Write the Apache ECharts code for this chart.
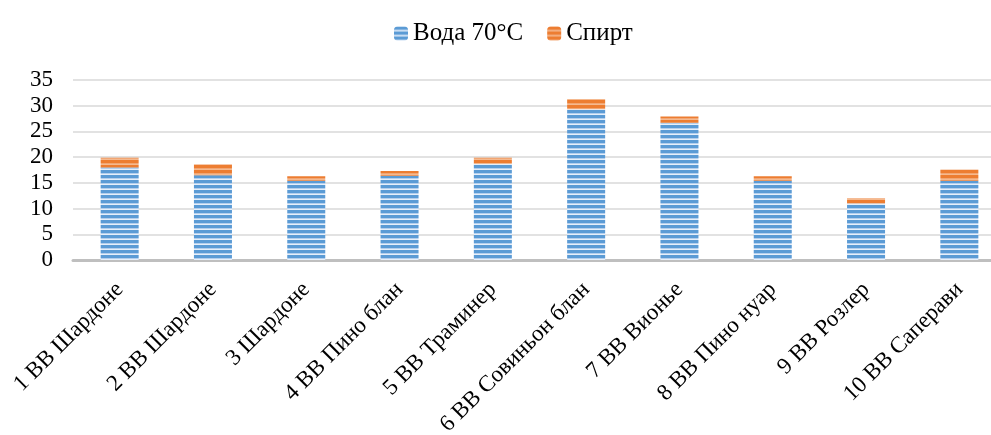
<!DOCTYPE html>
<html>
<head>
<meta charset="utf-8">
<script src="https://cdn.jsdelivr.net/npm/echarts@6/dist/echarts.min.js"></script>
<style>
html,body{margin:0;padding:0;background:#fff;}
#chart{width:991px;height:435px;}
</style>
</head>
<body>
<div id="chart"></div>
<script>
var categories = ['1 ВВ Шардоне','2 ВВ Шардоне','3 Шардоне','4 ВВ Пино блан','5 ВВ Траминер','6 ВВ Совиньон блан','7 ВВ Вионье','8 ВВ Пино нуар','9 ВВ Розлер','10 ВВ Саперави'];
var waterValues = [18.0, 16.5, 15.4, 16.4, 18.7, 29.3, 26.7, 15.4, 11.0, 15.4];
var spiritValues = [1.9, 2.1, 0.9, 0.9, 1.2, 2.0, 1.2, 0.9, 1.0, 2.2];
var seriesNames = ['Вода 70°C', 'Спирт'];

function stripes(base, light1, light2) {
  var c = document.createElement('canvas');
  c.width = 4; c.height = 5;
  var ctx = c.getContext('2d');
  ctx.fillStyle = base; ctx.fillRect(0, 0, 4, 5);
  ctx.fillStyle = light1; ctx.fillRect(0, 3, 4, 1);
  ctx.fillStyle = light2; ctx.fillRect(0, 4, 4, 1);
  return c;
}
var bluePat = {image: stripes('#5B9BD5', '#b3cfee', '#e6effa'), repeat: 'repeat'};
var orangePat = {image: stripes('#ED7D31', '#f2a673', '#f5b98f'), repeat: 'repeat'};

var chart = echarts.init(document.getElementById('chart'), null, {renderer: 'canvas'});
var font = '"Liberation Serif", "Times New Roman", serif';
chart.setOption({
  animation: false,
  backgroundColor: '#ffffff',
  legend: {
    left: 389, top: 16,
    itemWidth: 14, itemHeight: 14, itemGap: 24,
    textStyle: {fontFamily: font, fontSize: 25, color: '#000'},
    data: seriesNames
  },
  grid: {left: 73, top: 80, width: 933, height: 180, containLabel: false, outerBoundsMode: 'none'},
  xAxis: {
    type: 'category',
    data: categories,
    axisLine: {lineStyle: {color: '#bfbfbf', width: 3}},
    axisTick: {show: false},
    axisLabel: {rotate: 45, margin: 26, fontFamily: font, fontSize: 23, color: '#000', interval: 0}
  },
  yAxis: {
    type: 'value', min: 0, max: 35, interval: 5,
    axisLine: {show: false}, axisTick: {show: false},
    splitLine: {lineStyle: {color: '#d9d9d9', width: 1.5}},
    axisLabel: {margin: 20, fontFamily: font, fontSize: 23, color: '#000'}
  },
  series: [
    {name: seriesNames[0], type: 'bar', stack: 'a', barWidth: 38, data: waterValues,
     itemStyle: {color: bluePat}},
    {name: seriesNames[1], type: 'bar', stack: 'a', barWidth: 38, data: spiritValues,
     itemStyle: {color: orangePat}}
  ]
});
</script>
</body>
</html>
